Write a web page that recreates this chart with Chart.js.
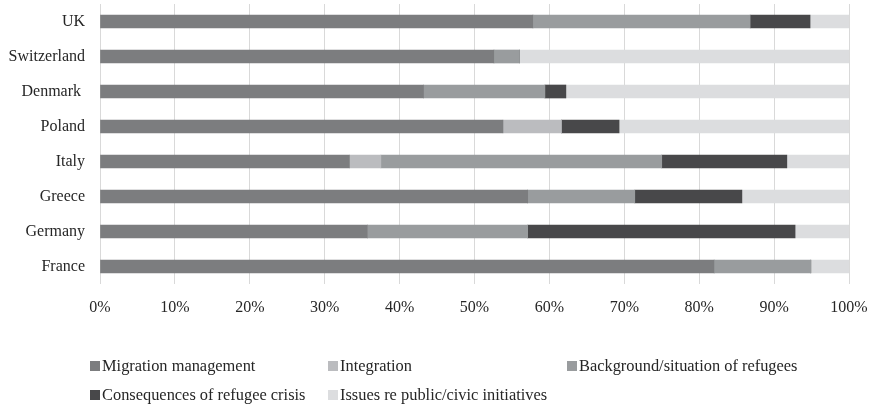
<!DOCTYPE html>
<html>
<head>
<meta charset="utf-8">
<script src="https://cdn.jsdelivr.net/npm/chart.js@4"></script>
<style>
  body { margin: 0; background: #fff; }
  #wrap { position: relative; width: 871px; height: 408px; }
  #chartCanvas { position: absolute; left: 0; top: 0; }
  #legend {
    position: absolute; left: 90px; top: 356px;
    display: grid; grid-template-columns: 238px 239px 260px;
    row-gap: 10px;
    font-family: "Liberation Serif", "Times New Roman", serif;
    font-size: 16.4px; color: #262626; line-height: 19px;
  }
  .item { display: flex; align-items: center; white-space: nowrap; }
  .box { width: 10px; height: 10px; margin-right: 2px; }
</style>
</head>
<body>
<div id="wrap">
  <canvas id="chartCanvas" width="871" height="408"></canvas>
  <div id="legend"></div>
</div>
<script>
const countries = ["UK", "Switzerland", "Denmark ", "Poland", "Italy", "Greece", "Germany", "France"];

const migrationManagement = [57.8, 52.6, 43.2, 53.8, 33.3, 57.1, 35.7, 82.0];
const integration         = [0,    0,    0,    7.8,  4.2,  0,    0,    0];
const backgroundRefugees  = [29.0, 3.4,  16.2, 0,    37.5, 14.3, 21.4, 12.9];
const consequencesCrisis  = [8.0,  0,    2.8,  7.7,  16.7, 14.3, 35.7, 0];
const civicInitiatives    = [5.2,  44.0, 37.8, 30.7, 8.3,  14.3, 7.2,  5.1];

const seriesNames = [
    "Migration management",
    "Integration",
    "Background/situation of refugees",
    "Consequences of refugee crisis",
    "Issues re public/civic initiatives"
];
const seriesColors = ["#7c7d7f", "#bbbcbf", "#999c9e", "#48484a", "#dcdddf"];
const seriesValues = [migrationManagement, integration, backgroundRefugees, consequencesCrisis, civicInitiatives];

const percentTicks = [0, 10, 20, 30, 40, 50, 60, 70, 80, 90, 100];

const serif = "'Liberation Serif', 'Times New Roman', serif";

let ctx = document.querySelector("#chartCanvas");

let graphTopics = new Chart(ctx, {

    type: "bar",

    data: {
        labels: countries,
        datasets: seriesValues.map((values, i) => ({
            label: seriesNames[i],
            data: values,
            backgroundColor: seriesColors[i],
            borderWidth: 0,
            barThickness: 13
        }))
    },

    options: {
        indexAxis: "y",
        responsive: false,
        animation: false,
        layout: {
            padding: { left: 0, right: 22, top: 4, bottom: 84 }
        },
        scales: {
            x: {
                stacked: true,
                min: 0,
                max: 100,
                afterBuildTicks: (scale) => {
                    scale.ticks = percentTicks.map(v => ({ value: v }));
                },
                afterFit: (scale) => {
                    // fixed axis band, no extra side padding for the end labels
                    scale.height = 40;
                    scale.paddingLeft = 0;
                    scale.paddingRight = 0;
                },
                grid: {
                    color: "#d9d9d9",
                    lineWidth: 1,
                    drawTicks: false
                },
                border: { display: false },
                ticks: {
                    padding: 14,
                    color: "#262626",
                    font: { family: serif, size: 16 },
                    maxRotation: 0,
                    callback: (v) => v + "%"
                }
            },
            y: {
                stacked: true,
                afterFit: (scale) => {
                    scale.width = 100;
                    scale.paddingTop = 0;
                    scale.paddingBottom = 0;
                },
                grid: { display: false, drawTicks: false },
                border: { display: false },
                ticks: {
                    padding: 15,
                    color: "#262626",
                    font: { family: serif, size: 16 }
                }
            }
        },
        plugins: {
            legend: { display: false },
            tooltip: { enabled: false }
        }
    }
});

// legend laid out like the original grid
let legendBox = document.querySelector("#legend");
seriesNames.forEach((name, i) => {
    let item = document.createElement("div");
    item.className = "item";
    item.innerHTML = '<span class="box" style="background:' + seriesColors[i] + '"></span>' + name;
    legendBox.appendChild(item);
});
</script>
</body>
</html>
